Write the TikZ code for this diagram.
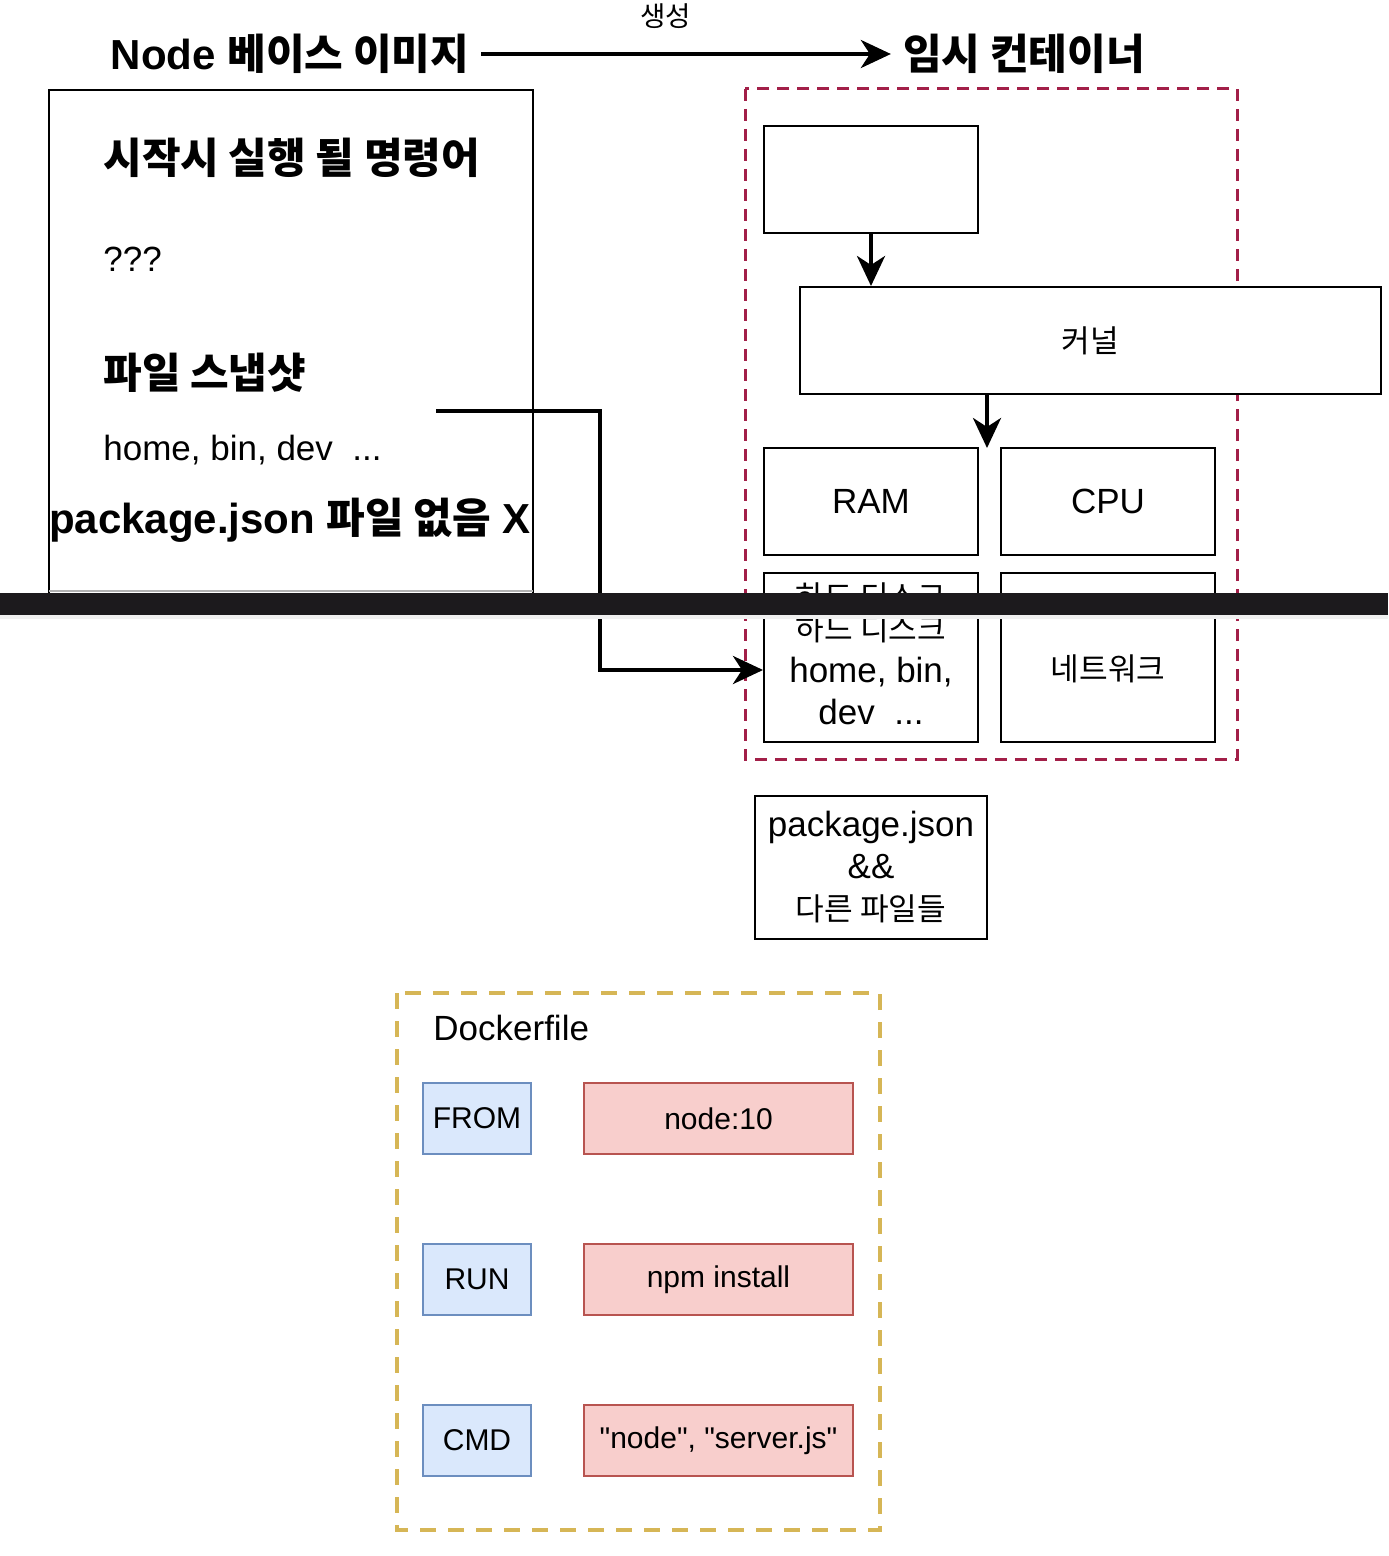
\documentclass[tikz,border=0pt]{standalone}
\usepackage{fontspec}
\setmainfont{Liberation Sans}
\newfontfamily\plainfont{Liberation Sans}
\newfontfamily\kr{Noto Sans CJK KR}[Scale=0.89]
\newfontfamily\krb{Noto Sans CJK KR}
\usetikzlibrary{positioning, calc, arrows.meta}

\definecolor{boxred}{RGB}{162,31,72}
\definecolor{fileyellow}{RGB}{214,182,86}
\definecolor{cmdfill}{RGB}{218,232,252}
\definecolor{cmdline}{RGB}{108,142,191}
\definecolor{argfill}{RGB}{248,206,204}
\definecolor{argline}{RGB}{184,84,80}
\definecolor{barblack}{RGB}{28,26,29}

\tikzset{
    hw/.style={draw, line width=1pt, fill=white, inner sep=0pt, align=center,
        minimum width=107pt, minimum height=53.5pt, font=\fontsize{17.5}{21}\selectfont},
    heading/.style={inner sep=6pt, font=\bfseries\fontsize{21}{25}\selectfont},
    body/.style={inner sep=0pt, anchor=west, font=\fontsize{17.5}{21}\selectfont},
    keyword/.style={draw=cmdline, fill=cmdfill, line width=1pt, inner sep=0pt,
        minimum width=54pt, minimum height=35.5pt, font=\fontsize{15}{18}\selectfont},
    argument/.style={keyword, draw=argline, fill=argfill, minimum width=134.5pt},
    flow/.style={-{Stealth[length=15pt, width=14pt, inset=4.5pt]}, line width=2pt},
}

\begin{document}
\begin{tikzpicture}[x=0.5pt, y=-0.5pt]
        \useasboundingbox (0, 0) rectangle (1388, 1556);
        % image and container titles
        \path (290, 54) node[heading](Base){Node {\krb 베이스 이미지}};
        \path (1024, 54) node[heading](Temp){{\krb 임시 컨테이너}};
        \draw[flow] (Base.east) -- (Temp.west)
            node[pos=0.45, yshift=19pt, font=\fontsize{15.5}{18}\selectfont] {\kr 생성};

        % base image
        \draw[line width=1pt] (49, 90) rectangle (533, 617);
        \path (103, 158) node[heading, anchor=west, inner sep=0pt](Cmd){{\krb 시작시 실행 될 명령어}};
        \path (103, 259) node[body](Unknown){???};
        \path (103, 373) node[heading, anchor=west, inner sep=0pt](Snapshot){{\krb 파일 스냅샷}};
        \path (103, 450) node[body](Dirs){home, bin, dev\ \ ...};
        \path (290, 520) node[heading, inner sep=0pt](NoPkg){package.json {\krb 파일 없음} X};

        % temporary container
        \draw[boxred, line width=1.5pt, dash pattern=on 6pt off 4pt] (745, 89) rectangle (1237, 759);
        \path (871, 179.5) node[hw](Start){};
        \path (1090.5, 340.5) node[hw, minimum width=290.5pt](Kernel){\kr 커널};
        \path (871, 501.5) node[hw](Ram){RAM};
        \path (1108, 501.5) node[hw](Cpu){CPU};
        \path (871, 657.5) node[hw, minimum height=84.5pt](DiskBox){};
        \path (1108, 657.5) node[hw, minimum height=84.5pt](Net){};
        \path (871, 597) node[hw, draw=none, fill=none](DiskOld){\kr 하드 디스크};
        \path (871, 670) node[hw, draw=none, fill=none, minimum height=0pt](Disk){{\kr 하드 디스크}\\home, bin,\\dev\ \ ...};
        \path (1108, 669) node[hw, draw=none, fill=none, minimum height=0pt](NetText){\kr 네트워크};
        \coordinate (HwTop) at (987, 448);
        \draw[flow] (Start.south) -- (Start.south |- Kernel.north);
        \draw[flow] (Kernel.south -| HwTop) -- (HwTop);

        % snapshot copied into the disk
        \coordinate (SnapOut) at (436, 411);
        \coordinate (Bend) at (600, 411);
        \draw[flow] (SnapOut) -- (Bend) |- (DiskBox.west |- Disk);

        \path (871, 867.5) node[hw, minimum width=116pt, minimum height=71.5pt](Pkg){package.json\\\&\&\\{\kr 다른 파일들}};

        % screenshot seam
        \draw[gray!60, line width=0.8pt] (49, 591) -- (533, 591);
        \fill[barblack] (0, 593) rectangle (1388, 615);
        \fill[black!6] (0, 615) rectangle (1388, 619);

        % dockerfile
        \draw[fileyellow, line width=2pt, dash pattern=on 8pt off 6pt] (397, 993) rectangle (880, 1530);
        \path (433, 1028) node[body](Dockerfile){Dockerfile};
        \path (477, 1118.5) node[keyword](From){FROM};
        \path (718.5, 1118.5) node[argument](FromArg){node:10};
        \path (477, 1279.5) node[keyword](Run){RUN};
        \path (718.5, 1279.5) node[argument](RunArg){npm install};
        \path (477, 1440.5) node[keyword](CmdKey){CMD};
        \path (718.5, 1440.5) node[argument](CmdArg){\plainfont "node", "server.js"};
    \end{tikzpicture}
\end{document}
